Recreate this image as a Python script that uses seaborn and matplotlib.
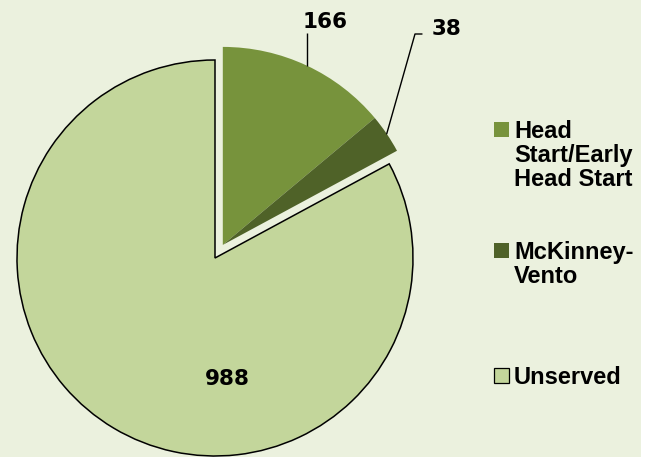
import numpy as np
import matplotlib
matplotlib.use("Agg")
import matplotlib.pyplot as plt
from matplotlib.patches import Rectangle
import seaborn as sns

# Children by program
categories = ["Head Start/Early Head Start", "McKinney-Vento", "Unserved"]
legend_lines = [["Head", "Start/Early", "Head Start"], ["McKinney-", "Vento"], ["Unserved"]]
counts = [166, 38, 988]
colors = ["#77933C", "#4F6228", "#C3D69B"]

sns.set_theme(style="white")
plt.rcParams["font.family"] = ["Liberation Sans", "DejaVu Sans"]

W, H = 654, 457
fig = plt.figure(figsize=(W / 100, H / 100), dpi=100, facecolor="white")
fig.patches.append(Rectangle((0, 0), 641 / W, 1, transform=fig.transFigure,
                             facecolor="#EBF1DE", edgecolor="none", zorder=-10))


def fx(px):
    return px / W


def fy(py):
    return 1 - py / H


# pie placement (pixels from top-left), one data unit = R pixels
cx, cy, R = 215, 258, 198
L = 1.4
ax = fig.add_axes([(cx - L * R) / W, (H - cy - L * R) / H, 2 * L * R / W, 2 * L * R / H])
ax.set_facecolor("none")

palette = sns.color_palette(colors)
wedges, _ = ax.pie(counts, colors=palette, startangle=90, counterclock=False,
                   radius=1, wedgeprops=dict(linewidth=0))
ax.set_xlim(-L, L)
ax.set_ylim(-L, L)
ax.set_aspect("equal")
ax.axis("off")

# pull the two served slices out together along their shared bisector
total = sum(counts)
served = (counts[0] + counts[1]) / total
mid = np.deg2rad(90 - served * 180)
pull = 0.077
shift = (pull * np.cos(mid), pull * np.sin(mid))
for w in wedges[:2]:
    w.set_center(shift)
wedges[2].set_edgecolor("black")
wedges[2].set_linewidth(1.1)


def arc_mid(w):
    a = np.deg2rad((w.theta1 + w.theta2) / 2)
    c = w.center
    return c[0] + w.r * np.cos(a), c[1] + w.r * np.sin(a)


def d(px, py):
    return (px - cx) / R, (cy - py) / R


num_font = dict(family="DejaVu Sans", fontweight="bold", fontsize=15.5, color="black")

# 166 label with vertical leader
p0 = arc_mid(wedges[0])
top0 = d(0, 33)[1]
ax.plot([p0[0], p0[0]], [p0[1], top0], color="black", lw=1, solid_capstyle="butt")
ax.text(*d(325, 28), f"{counts[0]}", ha="center", va="baseline", **num_font)

# 38 label with elbow leader
p1 = arc_mid(wedges[1])
e1 = d(415, 34)
e2 = d(422, 34)
ax.plot([p1[0], e1[0], e2[0]], [p1[1], e1[1], e2[1]], color="black", lw=1)
ax.text(*d(432, 35), f"{counts[1]}", ha="left", va="baseline", **num_font)

# 988 inside the large slice
ax.text(*d(227, 385), f"{counts[2]}", ha="center", va="baseline", **num_font)

# legend
entry_tops = [122, 243, 368]
step = 24
for lines, col, top, i in zip(legend_lines, palette, entry_tops, range(3)):
    edge = "black" if i == 2 else "none"
    fig.patches.append(Rectangle((fx(494), fy(top + 15)), 15 / W, 15 / H,
                                 transform=fig.transFigure, facecolor=col,
                                 edgecolor=edge, linewidth=0.9))
    for k, line in enumerate(lines):
        fig.text(fx(514), fy(top + 16 + k * step), line, ha="left", va="baseline",
                 fontsize=17, fontweight="bold", color="black",
                 family=["Liberation Sans", "DejaVu Sans"])

fig.savefig("out.png", dpi=100, facecolor=fig.get_facecolor())
